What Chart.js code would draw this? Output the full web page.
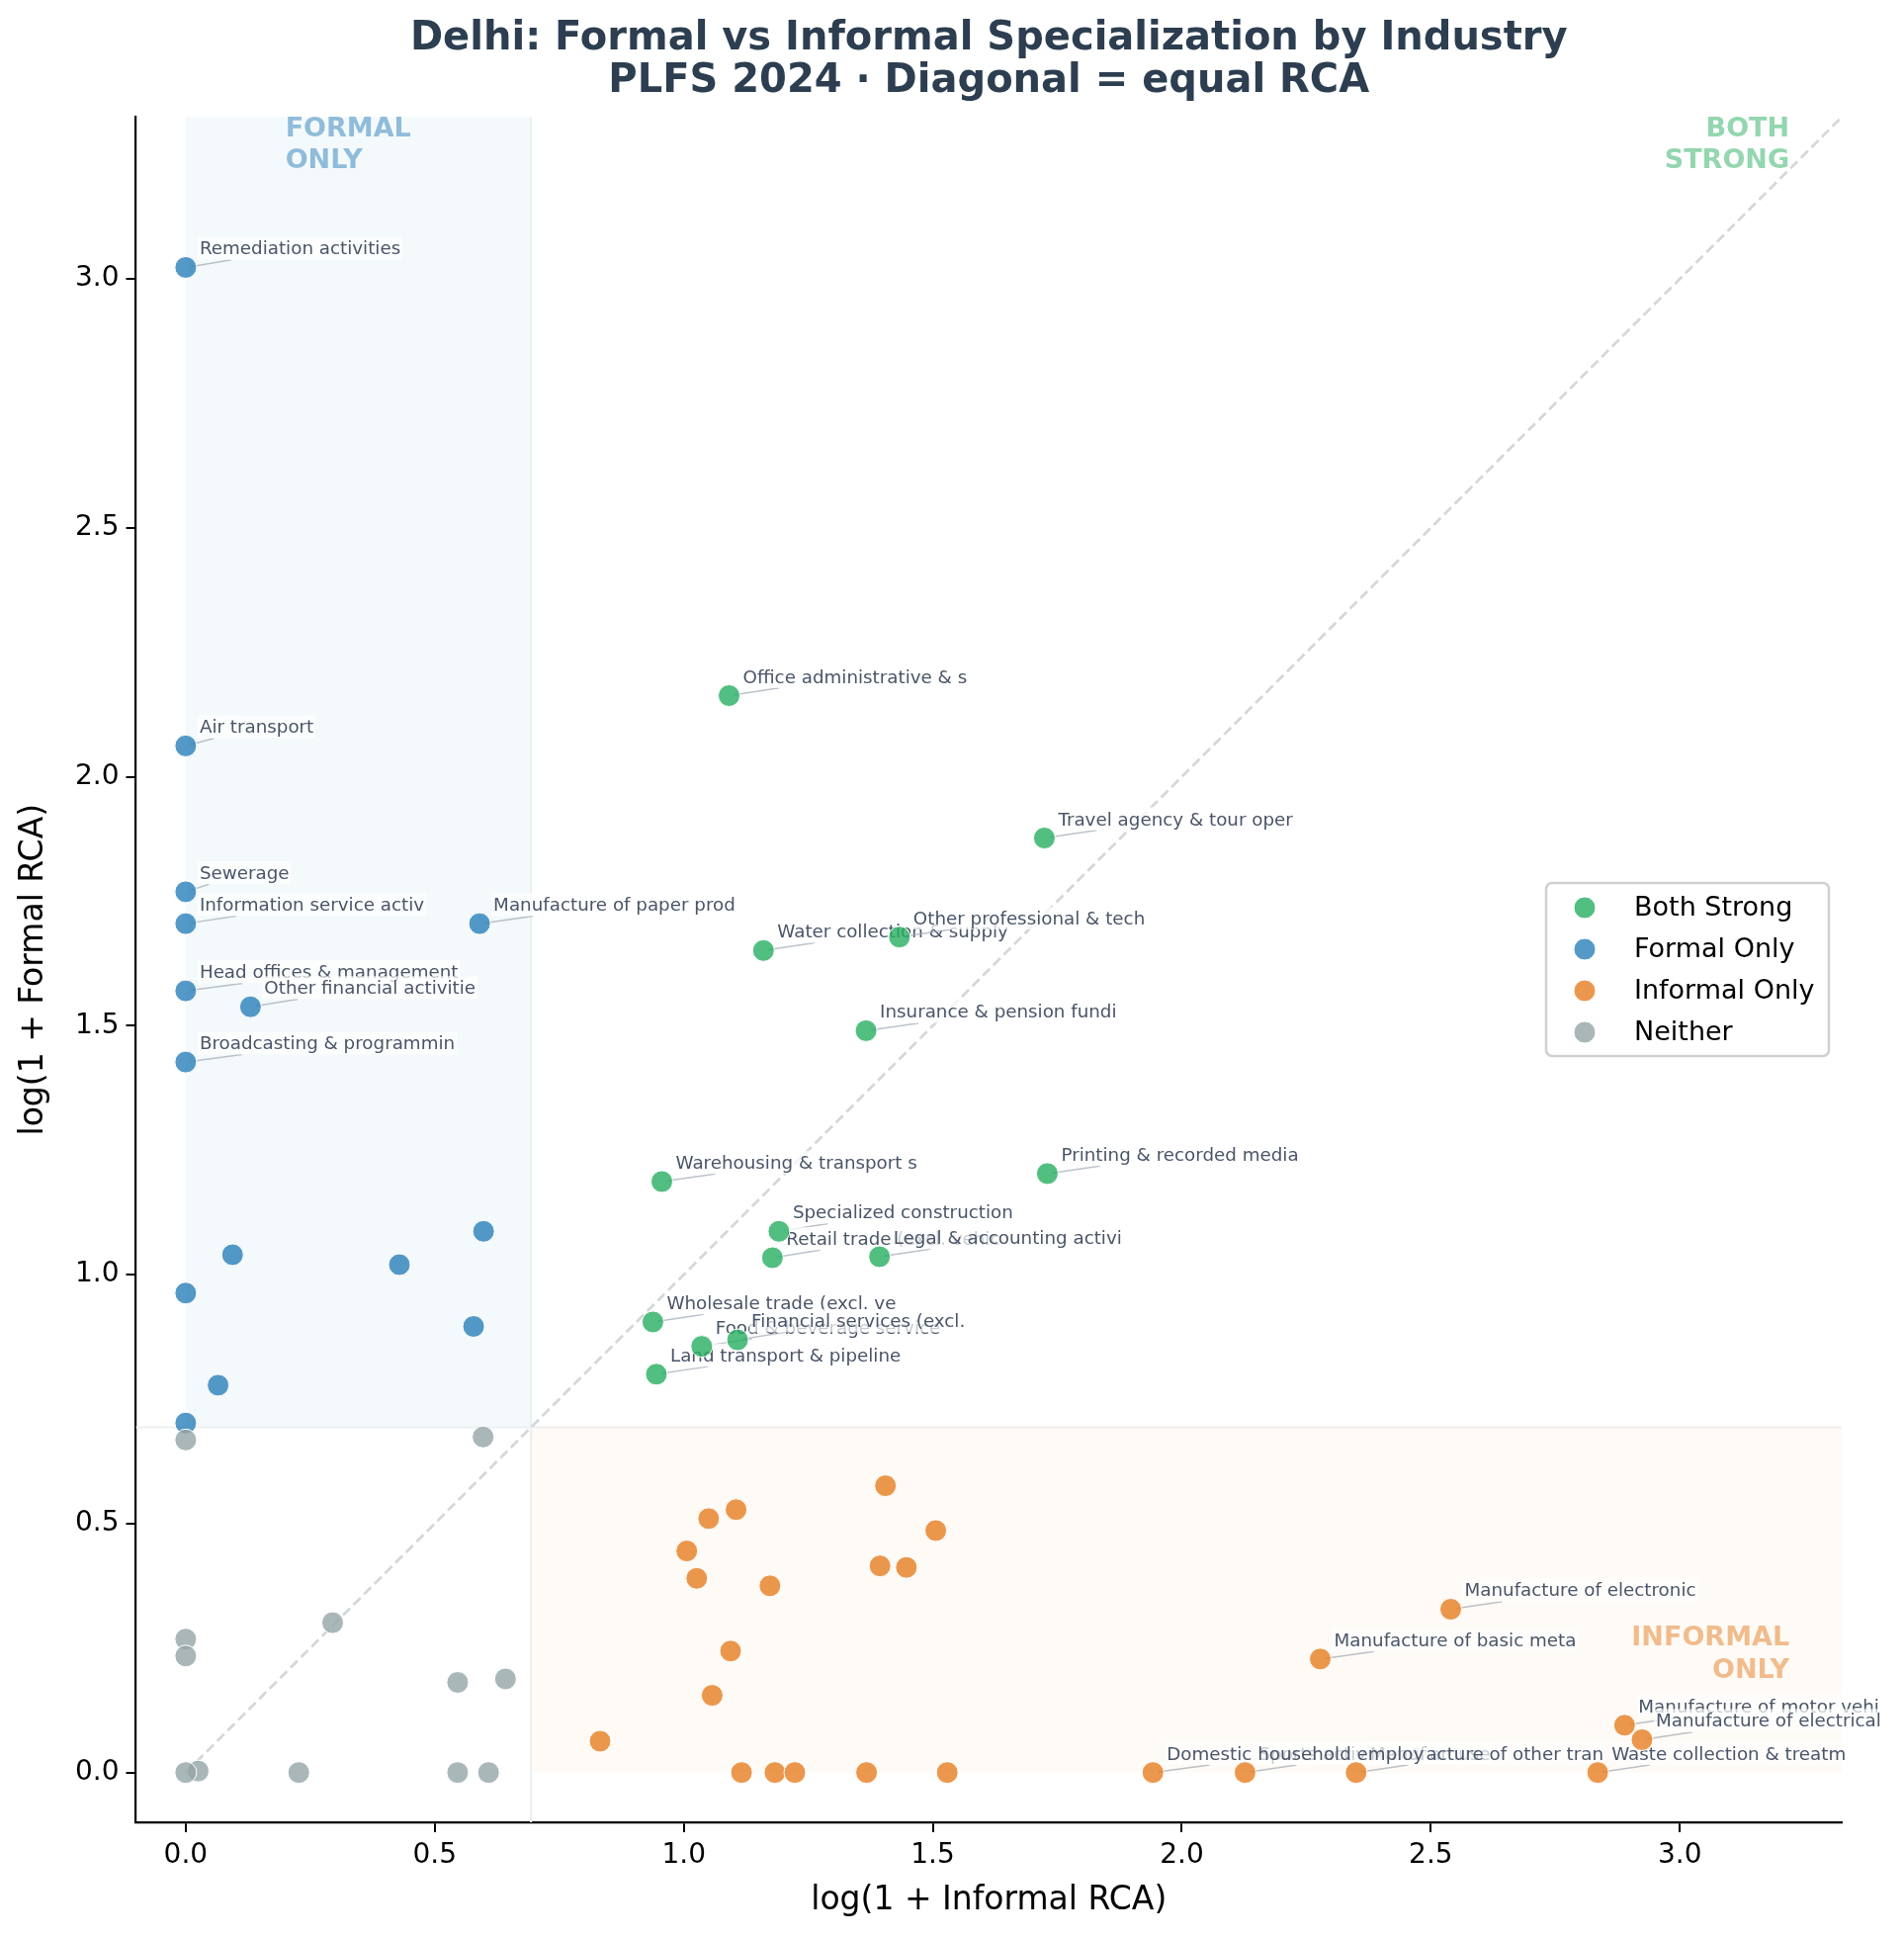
<!DOCTYPE html>
<html>
<head>
<meta charset="utf-8">
<script src="https://cdn.jsdelivr.net/npm/chart.js@4/dist/chart.umd.min.js"></script>
<style>
body { margin: 0; background: #fff; }
#wrap { width: 1926px; height: 1961px; }
</style>
</head>
<body>
<div id="wrap"><canvas id="chart" width="1926" height="1961"></canvas></div>
<script>
// log(1 + RCA) values
const bothNames = ["Office administrative & s", "Travel agency & tour oper", "Water collection & supply",
    "Other professional & tech", "Insurance & pension fundi", "Warehousing & transport s",
    "Printing & recorded media", "Specialized construction", "Retail trade (excl. vehic",
    "Legal & accounting activi", "Wholesale trade (excl. ve", "Food & beverage service",
    "Financial services (excl.", "Land transport & pipeline"];
const bothX = [1.091, 1.724, 1.160, 1.433, 1.366, 0.956, 1.730, 1.191, 1.178, 1.393, 0.938, 1.036, 1.108, 0.945];
const bothY = [2.163, 1.877, 1.651, 1.678, 1.490, 1.187, 1.203, 1.087, 1.034, 1.036, 0.905, 0.856, 0.869, 0.800];

const formalNames = ["Remediation activities", "Air transport", "Sewerage", "Information service activ",
    "Manufacture of paper prod", "Head offices & management", "Other financial activitie",
    "Broadcasting & programmin", "", "", "", "", "", "", ""];
const formalX = [0, 0, 0, 0, 0.590, 0, 0.130, 0, 0.598, 0.094, 0.429, 0, 0.578, 0.065, 0];
const formalY = [3.023, 2.062, 1.769, 1.705, 1.705, 1.570, 1.538, 1.427, 1.087, 1.040, 1.020, 0.963, 0.896, 0.778, 0.702];

const informalNames = ["", "", "", "", "", "", "", "", "", "", "", "", "", "", "", "", "",
    "Manufacture of electronic", "Manufacture of basic meta", "Manufacture of motor vehi",
    "Manufacture of electrical", "Sports activities & amuse", "Manufacture of other tran",
    "Domestic household employ", "Waste collection & treatm"];
const informalX = [1.405, 1.105, 1.050, 1.506, 1.006, 1.026, 1.394, 1.447, 1.173, 1.094, 1.057, 0.832,
    1.116, 1.183, 1.223, 1.367, 1.529, 2.540, 2.278, 2.889, 2.924, 2.127, 2.350, 1.942, 2.835];
const informalY = [0.576, 0.528, 0.510, 0.486, 0.445, 0.390, 0.415, 0.412, 0.375, 0.244, 0.155, 0.063,
    0, 0, 0, 0, 0, 0.328, 0.228, 0.095, 0.066, 0, 0, 0, 0];

const neitherX = [0, 0.597, 0.295, 0, 0, 0.546, 0.642, 0.227, 0.546, 0.608, 0.025, 0];
const neitherY = [0.668, 0.674, 0.301, 0.268, 0.234, 0.181, 0.188, 0, 0, 0, 0.003, 0];

const xTicks = [0, 0.5, 1.0, 1.5, 2.0, 2.5, 3.0];
const yTicks = [0, 0.5, 1.0, 1.5, 2.0, 2.5, 3.0];
const axisMax = 3.325;
const threshold = Math.log(2);

const GREEN = "rgba(39,174,96,0.8)";
const BLUE = "rgba(41,128,185,0.8)";
const ORANGE = "rgba(230,126,34,0.8)";
const GRAY = "rgba(149,165,166,0.8)";

function pts(xs, ys) {
    return xs.map((x, i) => ({ x: x, y: ys[i] }));
}

const groups = [
    { label: "Both Strong", xs: bothX, ys: bothY, names: bothNames, color: GREEN, order: 4 },
    { label: "Formal Only", xs: formalX, ys: formalY, names: formalNames, color: BLUE, order: 3 },
    { label: "Informal Only", xs: informalX, ys: informalY, names: informalNames, color: ORANGE, order: 2 },
    { label: "Neither", xs: neitherX, ys: neitherY, names: [], color: GRAY, order: 1 }
];

Chart.defaults.font.family = "'DejaVu Sans', sans-serif";
Chart.defaults.color = "#000";

const backdrop = {
    id: "backdrop",
    beforeDatasetsDraw(chart) {
        const ctx = chart.ctx;
        const xs = chart.scales.x, ys = chart.scales.y;
        const a = chart.chartArea;
        ctx.save();
        // formal-only zone
        ctx.fillStyle = "rgba(41,128,185,0.05)";
        ctx.fillRect(xs.getPixelForValue(0), a.top,
            xs.getPixelForValue(threshold) - xs.getPixelForValue(0),
            ys.getPixelForValue(threshold) - a.top);
        // informal-only zone
        ctx.fillStyle = "rgba(230,126,34,0.04)";
        ctx.fillRect(xs.getPixelForValue(threshold), ys.getPixelForValue(threshold),
            a.right - xs.getPixelForValue(threshold),
            ys.getPixelForValue(0) - ys.getPixelForValue(threshold));
        // threshold lines
        ctx.strokeStyle = "rgba(236,240,241,1)";
        ctx.lineWidth = 2;
        ctx.beginPath();
        const tx = xs.getPixelForValue(threshold);
        const ty = ys.getPixelForValue(threshold);
        ctx.moveTo(tx, a.top); ctx.lineTo(tx, a.bottom);
        ctx.moveTo(a.left, ty); ctx.lineTo(a.right, ty);
        ctx.stroke();

        // quadrant labels
        ctx.font = "bold 27px 'DejaVu Sans'";
        ctx.textBaseline = "alphabetic";
        ctx.fillStyle = "rgba(41,128,185,0.5)";
        ctx.textAlign = "left";
        ctx.fillText("FORMAL", xs.getPixelForValue(0.2), a.top + 20);
        ctx.fillText("ONLY", xs.getPixelForValue(0.2), a.top + 52);
        ctx.fillStyle = "rgba(39,174,96,0.5)";
        ctx.textAlign = "right";
        ctx.fillText("BOTH", xs.getPixelForValue(3.22), a.top + 20);
        ctx.fillText("STRONG", xs.getPixelForValue(3.22), a.top + 52);
        ctx.fillStyle = "rgba(230,126,34,0.5)";
        ctx.fillText("INFORMAL", xs.getPixelForValue(3.22), ys.getPixelForValue(0.19) - 33);
        ctx.fillText("ONLY", xs.getPixelForValue(3.22), ys.getPixelForValue(0.19));
        ctx.restore();
    },
    beforeDatasetDraw(chart, args) {
        if (args.index !== 0) return;
        const ctx = chart.ctx;
        const xs = chart.scales.x, ys = chart.scales.y;
        ctx.save();
        ctx.font = "18.3px 'DejaVu Sans'";
        ctx.textAlign = "left";
        ctx.textBaseline = "alphabetic";
        const drawOrder = [1, 0, 2];
        drawOrder.forEach(gi => {
            const g = groups[gi];
            g.names.forEach((name, i) => {
                if (!name) return;
                const px = xs.getPixelForValue(g.xs[i]);
                const py = ys.getPixelForValue(g.ys[i]);
                const tx = px + 14, base = py - 13;
                const w = ctx.measureText(name).width;
                const bx0 = tx - 2, bx1 = tx + w + 2;
                const by0 = base - 18, by1 = base + 5.3;
                const cx = (bx0 + bx1) / 2, cy = (by0 + by1) / 2;
                const t = (py - by1) / (py - cy);
                const len = Math.hypot(cx - px, cy - py);
                const s = 5 / len;
                ctx.strokeStyle = "rgba(160,168,178,0.7)";
                ctx.lineWidth = 1.5;
                ctx.beginPath();
                ctx.moveTo(px + (cx - px) * s, py + (cy - py) * s);
                ctx.lineTo(px + (cx - px) * t, py + (cy - py) * t);
                ctx.stroke();
                ctx.fillStyle = "rgba(255,255,255,0.7)";
                ctx.fillRect(bx0, by0, bx1 - bx0, by1 - by0);
                ctx.fillStyle = "#4a5568";
                ctx.fillText(name, tx, base);
            });
        });
        ctx.restore();
    },
    afterDraw(chart) {
        const ctx = chart.ctx;
        ctx.save();
        const x0 = 1564, y0 = 893, w = 286, h = 175;
        ctx.fillStyle = "rgba(255,255,255,0.8)";
        ctx.strokeStyle = "#d0d0d0";
        ctx.lineWidth = 2.5;
        ctx.beginPath();
        ctx.roundRect(x0, y0, w, h, 6);
        ctx.fill();
        ctx.stroke();
        ctx.font = "27px 'DejaVu Sans'";
        ctx.textAlign = "left";
        ctx.textBaseline = "middle";
        groups.forEach((g, i) => {
            const ry = 918 + i * 42;
            ctx.fillStyle = g.color;
            ctx.strokeStyle = "#fff";
            ctx.lineWidth = 1;
            ctx.beginPath();
            ctx.arc(1603, ry, 11, 0, Math.PI * 2);
            ctx.fill();
            ctx.stroke();
            ctx.fillStyle = "#000";
            ctx.fillText(g.label, 1653, ry + 1);
        });
        ctx.restore();
    }
};

const datasets = groups.map(g => ({
    label: g.label,
    data: pts(g.xs, g.ys),
    backgroundColor: g.color,
    borderColor: "#ffffff",
    borderWidth: 1,
    pointRadius: 11,
    order: g.order
}));

datasets.push({
    label: "diag",
    data: [{ x: 0, y: 0 }, { x: axisMax, y: axisMax }],
    showLine: true,
    pointRadius: 0,
    borderColor: "rgba(189,195,199,0.65)",
    borderWidth: 2.8,
    borderDash: [10, 5],
    order: 5
});

function axis(title, ticks, pos) {
    return {
        type: "linear",
        position: pos,
        min: -0.1,
        max: axisMax,
        afterBuildTicks: s => { s.ticks = ticks.map(v => ({ value: v })); },
        afterFit: s => {
            if (pos === "left") s.width = 137.5;
            else s.height = 118;
        },
        grid: {
            display: true,
            drawOnChartArea: false,
            drawTicks: true,
            tickLength: 10,
            color: "#000",
            lineWidth: 2
        },
        border: { display: true, color: "#000", width: 2.2 },
        ticks: {
            font: { size: 28 },
            color: "#000",
            padding: 7,
            maxRotation: 0,
            callback: v => Number(v).toFixed(1)
        },
        title: {
            display: true,
            text: title,
            font: { size: 33 },
            color: "#000",
            padding: pos === "left" ? { top: 15, bottom: 0 } : { top: 4, bottom: 19 }
        }
    };
}

new Chart(document.getElementById("chart"), {
    type: "scatter",
    data: { datasets: datasets },
    options: {
        responsive: false,
        animation: false,
        events: [],
        layout: { padding: { top: 0, right: 63, left: 0, bottom: 0 } },
        scales: {
            x: axis("log(1 + Informal RCA)", xTicks, "bottom"),
            y: axis("log(1 + Formal RCA)", yTicks, "left")
        },
        plugins: {
            legend: { display: false },
            tooltip: { enabled: false },
            title: {
                display: true,
                fullSize: false,
                text: ["Delhi: Formal vs Informal Specialization by Industry", "PLFS 2024 · Diagonal = equal RCA"],
                color: "#2c3e50",
                font: { size: 40, weight: "bold", lineHeight: 1.08 },
                padding: { top: 18, bottom: 14 }
            }
        }
    },
    plugins: [backdrop]
});
</script>
</body>
</html>
